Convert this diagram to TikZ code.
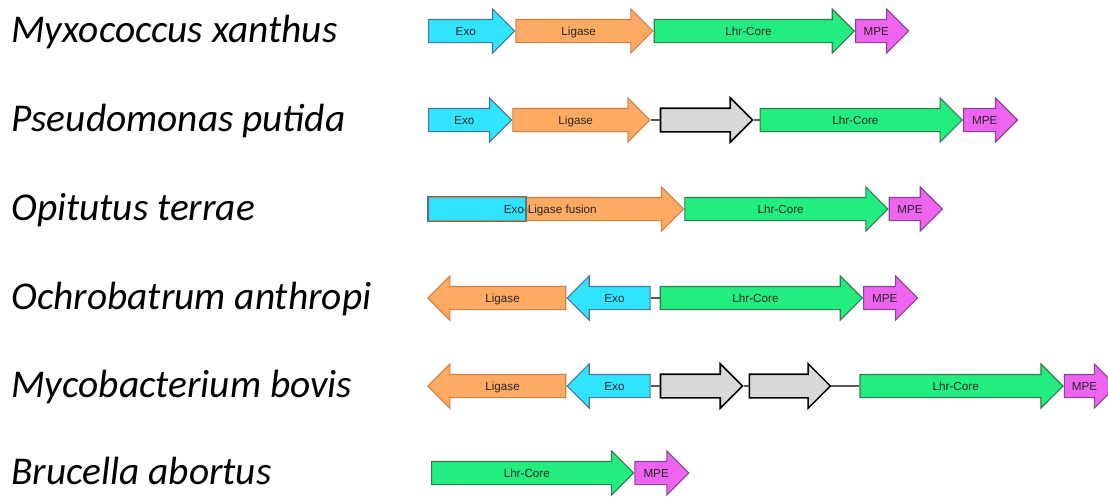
\documentclass[tikz,border=0pt]{standalone}
\usepackage{fontspec}
\setmainfont{Carlito}
\newfontfamily\genefont{Liberation Sans}
\usetikzlibrary{shapes.arrows,positioning}

\definecolor{exofill}{RGB}{48,228,255}
\definecolor{exoline}{RGB}{70,120,150}
\definecolor{ligfill}{RGB}{255,170,98}
\definecolor{ligline}{RGB}{205,130,75}
\definecolor{lhrfill}{RGB}{34,238,128}
\definecolor{lhrline}{RGB}{55,120,80}
\definecolor{mpefill}{RGB}{238,100,240}
\definecolor{mpeline}{RGB}{130,70,150}
\definecolor{orffill}{RGB}{216,216,216}

\newcommand{\px}{0.025cm}

\begin{document}
\begin{tikzpicture}[
        x=\px, y=-\px,
        gene/.style={single arrow, single arrow tip angle=90,
            single arrow head extend=7.47pt, minimum width=30.6pt,
            inner sep=0pt, text height=10.79pt, text depth=4.85pt,
            line width=0.8pt, text=black!85,
            font=\genefont\fontsize{8.3}{10}\selectfont},
        len/.style={minimum height=#1*\px},
        exo/.style={gene, fill=exofill, draw=exoline, len=84},
        ligase/.style={gene, fill=ligfill, draw=ligline, len=137},
        lhr/.style={gene, fill=lhrfill, draw=lhrline, len=202},
        mpe/.style={gene, fill=mpefill, draw=mpeline, len=54},
        orf/.style={gene, fill=orffill, draw=black, line width=1.1pt},
        back/.style={shape border rotate=180},
        link/.style={draw=black!65, line width=0.9pt},
        species/.style={anchor=base west, inner sep=0pt,
            font=\fontsize{28}{32}\selectfont\itshape}
    ]
    \useasboundingbox (0,0) rectangle (1108,496);

    % species names
    \node[species] (myxo)  at (11,42)  {Myxococcus xanthus};
    \node[species] (pseu)  at (11,131) {Pseudomonas putida};
    \node[species] (opit)  at (11,220) {Opitutus terrae};
    \node[species] (ochr)  at (11,309) {Ochrobatrum anthropi};
    \node[species] (myco)  at (11,397) {Mycobacterium bovis};
    \node[species] (bruc)  at (11,484) {Brucella abortus};

    % Myxococcus xanthus
    \node[exo, len=86, anchor=tail]         (myxoExo) at (428,31)  {Exo};
    \node[ligase, right=0pt of myxoExo.tip, anchor=tail]   (myxoLig) {Ligase};
    \node[lhr, len=200, right=0pt of myxoLig.tip, anchor=tail] (myxoLhr) {Lhr-Core};
    \node[mpe, len=53, right=0pt of myxoLhr.tip, anchor=tail]  (myxoMpe) {MPE};

    % Pseudomonas putida
    \node[exo, len=83, anchor=tail]         (pseuExo) at (428,120) {Exo};
    \node[ligase, right=0pt of pseuExo.tip, anchor=tail]   (pseuLig) {Ligase};
    \node[orf, len=92, right=9*\px of pseuLig.tip, anchor=tail] (pseuOrf) {};
    \node[lhr, right=6*\px of pseuOrf.tip, anchor=tail]    (pseuLhr) {Lhr-Core};
    \node[mpe, right=0pt of pseuLhr.tip, anchor=tail]      (pseuMpe) {MPE};

    % Opitutus terrae
    \node[ligase, len=255, anchor=tail, path picture={
            \fill[exofill]
                ([yshift=-7.82pt]path picture bounding box.west)
                rectangle ([xshift=98*\px, yshift=7.82pt]path picture bounding box.west);
        }]                                  (opitFus) at (428,209) {Exo-Ligase fusion};
    \draw[exoline, line width=0.8pt] ([xshift=98*\px]opitFus.before tail)
        -- (opitFus.before tail) -- (opitFus.after tail)
        -- ([xshift=98*\px]opitFus.after tail) -- cycle;
    \node[lhr, len=203, right=0pt of opitFus.tip, anchor=tail] (opitLhr) {Lhr-Core};
    \node[mpe, len=53, right=0pt of opitLhr.tip, anchor=tail]  (opitMpe) {MPE};

    % Ochrobatrum anthropi
    \node[ligase, back, len=138, anchor=tip] (ochrLig) at (427,298) {Ligase};
    \node[exo, back, len=83, right=0pt of ochrLig.tail, anchor=tip] (ochrExo) {Exo};
    \node[lhr, right=9*\px of ochrExo.tail, anchor=tail]   (ochrLhr) {Lhr-Core};
    \node[mpe, right=0pt of ochrLhr.tip, anchor=tail]      (ochrMpe) {MPE};

    % Mycobacterium bovis
    \node[ligase, back, len=138, anchor=tip] (mycoLig) at (427,386) {Ligase};
    \node[exo, back, len=83, right=0pt of mycoLig.tail, anchor=tip] (mycoExo) {Exo};
    \node[orf, len=82, right=9*\px of mycoExo.tail, anchor=tail]  (mycoOrfA) {};
    \node[orf, len=81, right=5*\px of mycoOrfA.tip, anchor=tail]  (mycoOrfB) {};
    \node[lhr, len=203, right=28*\px of mycoOrfB.tip, anchor=tail] (mycoLhr) {Lhr-Core};
    \node[mpe, len=52, right=0pt of mycoLhr.tip, anchor=tail]      (mycoMpe) {MPE};

    % Brucella abortus
    \node[lhr, anchor=tail]                 (brucLhr) at (431,473) {Lhr-Core};
    \node[mpe, right=0pt of brucLhr.tip, anchor=tail]      (brucMpe) {MPE};

    % intergenic links
    \draw[link] (pseuLig.tip)   -- (pseuOrf.tail);
    \draw[link] (pseuOrf.tip)   -- (pseuLhr.tail);
    \draw[link] (ochrExo.tail)  -- (ochrLhr.tail);
    \draw[link] (mycoExo.tail)  -- (mycoOrfA.tail);
    \draw[link] (mycoOrfA.tip)  -- (mycoOrfB.tail);
    \draw[link] (mycoOrfB.tip)  -- (mycoLhr.tail);
\end{tikzpicture}
\end{document}
